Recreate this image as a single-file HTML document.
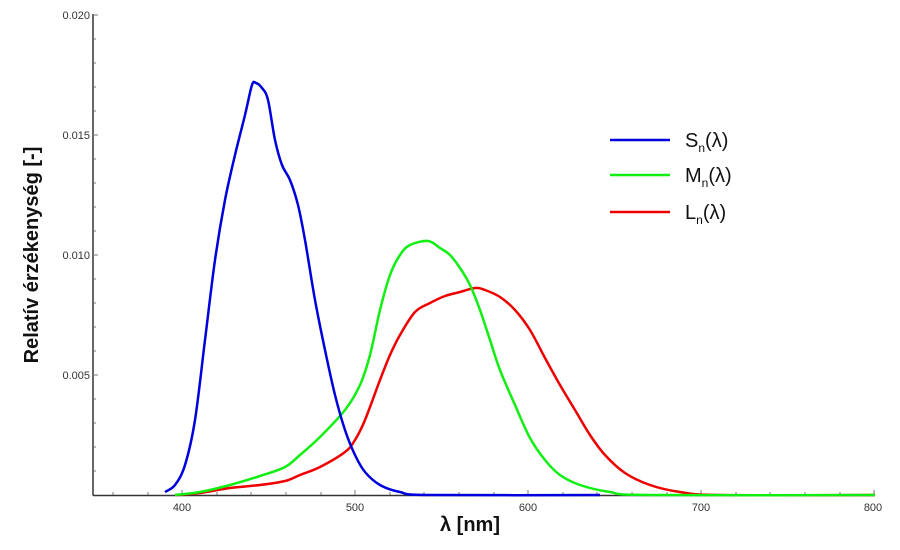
<!DOCTYPE html>
<html><head><meta charset="utf-8"><style>body{margin:0;background:#fff}</style></head><body>
<svg id="s" width="900" height="545" xmlns="http://www.w3.org/2000/svg" font-family="Liberation Sans, sans-serif">
<rect width="900" height="545" fill="#fff"/>
<g stroke="#333" stroke-width="1.5" fill="none">
<line x1="93" y1="14" x2="93" y2="495.5"/>
<line x1="93" y1="495.5" x2="875" y2="495.5"/>
</g>
<g stroke="#777" stroke-width="1">
<line x1="93" y1="15" x2="98" y2="15"/><line x1="93" y1="135" x2="98" y2="135"/><line x1="93" y1="255" x2="98" y2="255"/><line x1="93" y1="375" x2="98" y2="375"/>
<line x1="93" y1="39" x2="96" y2="39"/><line x1="93" y1="63" x2="96" y2="63"/><line x1="93" y1="87" x2="96" y2="87"/><line x1="93" y1="111" x2="96" y2="111"/>
<line x1="93" y1="159" x2="96" y2="159"/><line x1="93" y1="183" x2="96" y2="183"/><line x1="93" y1="207" x2="96" y2="207"/><line x1="93" y1="231" x2="96" y2="231"/>
<line x1="93" y1="279" x2="96" y2="279"/><line x1="93" y1="303" x2="96" y2="303"/><line x1="93" y1="327" x2="96" y2="327"/><line x1="93" y1="351" x2="96" y2="351"/>
<line x1="93" y1="399" x2="96" y2="399"/><line x1="93" y1="423" x2="96" y2="423"/><line x1="93" y1="447" x2="96" y2="447"/><line x1="93" y1="471" x2="96" y2="471"/>
<line x1="182" y1="495" x2="182" y2="490"/><line x1="355" y1="495" x2="355" y2="490"/><line x1="528" y1="495" x2="528" y2="490"/><line x1="701" y1="495" x2="701" y2="490"/><line x1="874" y1="495" x2="874" y2="490"/>
<line x1="113" y1="495" x2="113" y2="492"/><line x1="148" y1="495" x2="148" y2="492"/><line x1="217" y1="495" x2="217" y2="492"/><line x1="251" y1="495" x2="251" y2="492"/><line x1="286" y1="495" x2="286" y2="492"/><line x1="321" y1="495" x2="321" y2="492"/>
<line x1="390" y1="495" x2="390" y2="492"/><line x1="424" y1="495" x2="424" y2="492"/><line x1="459" y1="495" x2="459" y2="492"/><line x1="494" y1="495" x2="494" y2="492"/>
<line x1="563" y1="495" x2="563" y2="492"/><line x1="597" y1="495" x2="597" y2="492"/><line x1="632" y1="495" x2="632" y2="492"/><line x1="667" y1="495" x2="667" y2="492"/>
<line x1="736" y1="495" x2="736" y2="492"/><line x1="770" y1="495" x2="770" y2="492"/><line x1="805" y1="495" x2="805" y2="492"/><line x1="840" y1="495" x2="840" y2="492"/>
</g>
<g font-size="11" fill="#333" text-anchor="end">
<text x="90" y="19">0.020</text><text x="90" y="139">0.015</text><text x="90" y="259">0.010</text><text x="90" y="379">0.005</text>
</g>
<g font-size="11" fill="#333" text-anchor="middle">
<text x="182" y="511">400</text><text x="355" y="511">500</text><text x="528" y="511">600</text><text x="701" y="511">700</text><text x="873" y="511">800</text>
</g>
<text x="470" y="531" font-size="20" font-weight="bold" text-anchor="middle" fill="#111">λ [nm]</text>
<text transform="translate(38,255) rotate(-90)" font-size="20" font-weight="bold" text-anchor="middle" fill="#111">Relatív érzékenység [-]</text>
<g fill="none" stroke-width="2.5" stroke-linejoin="round">
<polyline class="c" stroke="#e00" points="175,495 200,493 230,488 260,485 285,481 300,475 320,467 345,452 355,440 365,420 380,380 390,355 400,335 415,312 430,303 445,296 460,292 475,288 485,290 500,297 515,310 530,330 545,358 560,385 575,410 590,435 605,455 625,473 650,485 680,492 720,495 875,495"/>
<polyline class="c" stroke="#11ee11" points="175,495 200,492 230,485 260,476 285,467 300,455 320,437 345,410 360,385 370,355 380,310 390,275 400,255 410,245 428,241 440,248 450,255 460,268 470,285 480,310 490,340 500,370 515,405 530,438 545,460 560,475 580,485 610,492 650,495 875,495"/>
<polyline class="c" stroke="#0000dd" points="165,492 175,485 185,465 195,420 205,340 215,260 225,200 235,155 245,115 252,85 256,83 262,88 268,100 275,140 282,165 290,180 298,205 305,240 315,300 325,350 335,395 345,430 355,455 365,472 380,485 400,492 430,495 600,495"/>
</g>
<g stroke-width="2.5">
<line x1="610" y1="140" x2="670" y2="140" stroke="#0000dd"/>
<line x1="610" y1="175" x2="670" y2="175" stroke="#11ee11"/>
<line x1="610" y1="212" x2="670" y2="212" stroke="#e00"/>
</g>
<g font-size="20" fill="#111">
<text x="685" y="147">S<tspan font-size="12" dy="5">n</tspan><tspan dy="-5">(λ)</tspan></text>
<text x="685" y="182">M<tspan font-size="12" dy="5">n</tspan><tspan dy="-5">(λ)</tspan></text>
<text x="685" y="219">L<tspan font-size="12" dy="5">n</tspan><tspan dy="-5">(λ)</tspan></text>
</g>
</svg>
<script>
document.querySelectorAll('polyline.c').forEach(function(pl){
var p=pl.getAttribute('points').trim().split(/\s+/).map(function(s){return s.split(',').map(Number)});
var d='M'+p[0][0]+','+p[0][1];
for(var i=0;i<p.length-1;i++){var a=p[i-1]||p[i],b=p[i],c=p[i+1],e=p[i+2]||c;
d+=' C'+(b[0]+(c[0]-a[0])/6)+','+(b[1]+(c[1]-a[1])/6)+' '+(c[0]-(e[0]-b[0])/6)+','+(c[1]-(e[1]-b[1])/6)+' '+c[0]+','+c[1];}
var path=document.createElementNS('http://www.w3.org/2000/svg','path');
path.setAttribute('d',d);path.setAttribute('stroke',pl.getAttribute('stroke'));
pl.parentNode.replaceChild(path,pl);});
</script>
</body></html>
